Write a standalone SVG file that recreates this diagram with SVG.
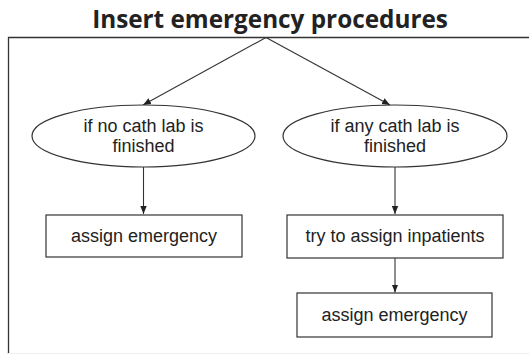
<svg xmlns="http://www.w3.org/2000/svg" width="529" height="354" viewBox="0 0 529 354">
  <style>
    .title { font-family: "Open Sans", "Noto Sans", sans-serif; font-weight: 700; font-size: 24.3px; fill: #222; }
    .label { font-family: "Liberation Sans", Arial, sans-serif; font-size: 18px; fill: #222; text-anchor: middle; }
    .shape { fill: #fff; stroke: #333; stroke-width: 1.2; }
    .edge { fill: none; stroke: #333; stroke-width: 1.1; marker-end: url(#arrow); }
    .frame { fill: none; stroke: #333; stroke-width: 1.3; }
  </style>
  <defs>
    <marker id="arrow" viewBox="0 0 10 10" refX="10" refY="5" markerWidth="8" markerHeight="8" markerUnits="userSpaceOnUse" orient="auto">
      <path d="M0,1 L10,5 L0,9 Z" fill="#222"/>
    </marker>
  </defs>
  <rect width="529" height="354" fill="#fff"/>

  <text class="title" x="270" y="27.5" text-anchor="middle">Insert emergency procedures</text>

  <!-- outer frame: top and left edges, faint bottom edge -->
  <path class="frame" d="M529,37.5 H8.5 V354"/>
  <line x1="8" y1="353.5" x2="529" y2="353.5" stroke="#eee" stroke-width="1"/>

  <g id="connectors">
    <line class="edge" x1="266" y1="37.5" x2="143" y2="105"/>
    <line class="edge" x1="266" y1="37.5" x2="390" y2="105"/>
    <line class="edge" x1="143.5" y1="167" x2="143.5" y2="214"/>
    <line class="edge" x1="395" y1="167" x2="395" y2="214"/>
    <line class="edge" x1="395" y1="258" x2="395" y2="292.5"/>
  </g>

  <g id="cond-no-lab">
    <ellipse class="shape" cx="143.5" cy="136" rx="111.5" ry="31"/>
    <text class="label" x="143.5" y="131.5">if no cath lab is</text>
    <text class="label" x="143.5" y="151.5">finished</text>
  </g>

  <g id="cond-any-lab">
    <ellipse class="shape" cx="395" cy="136" rx="112" ry="31"/>
    <text class="label" x="395" y="131.5">if any cath lab is</text>
    <text class="label" x="395" y="151.5">finished</text>
  </g>

  <g id="assign-emergency-left">
    <rect class="shape" x="46" y="215" width="196" height="42"/>
    <text class="label" x="144" y="242">assign emergency</text>
  </g>

  <g id="assign-inpatients">
    <rect class="shape" x="287" y="215" width="216" height="43"/>
    <text class="label" x="395" y="242">try to assign inpatients</text>
  </g>

  <g id="assign-emergency-right">
    <rect class="shape" x="297" y="293" width="195" height="44"/>
    <text class="label" x="394.5" y="320.5">assign emergency</text>
  </g>
</svg>
